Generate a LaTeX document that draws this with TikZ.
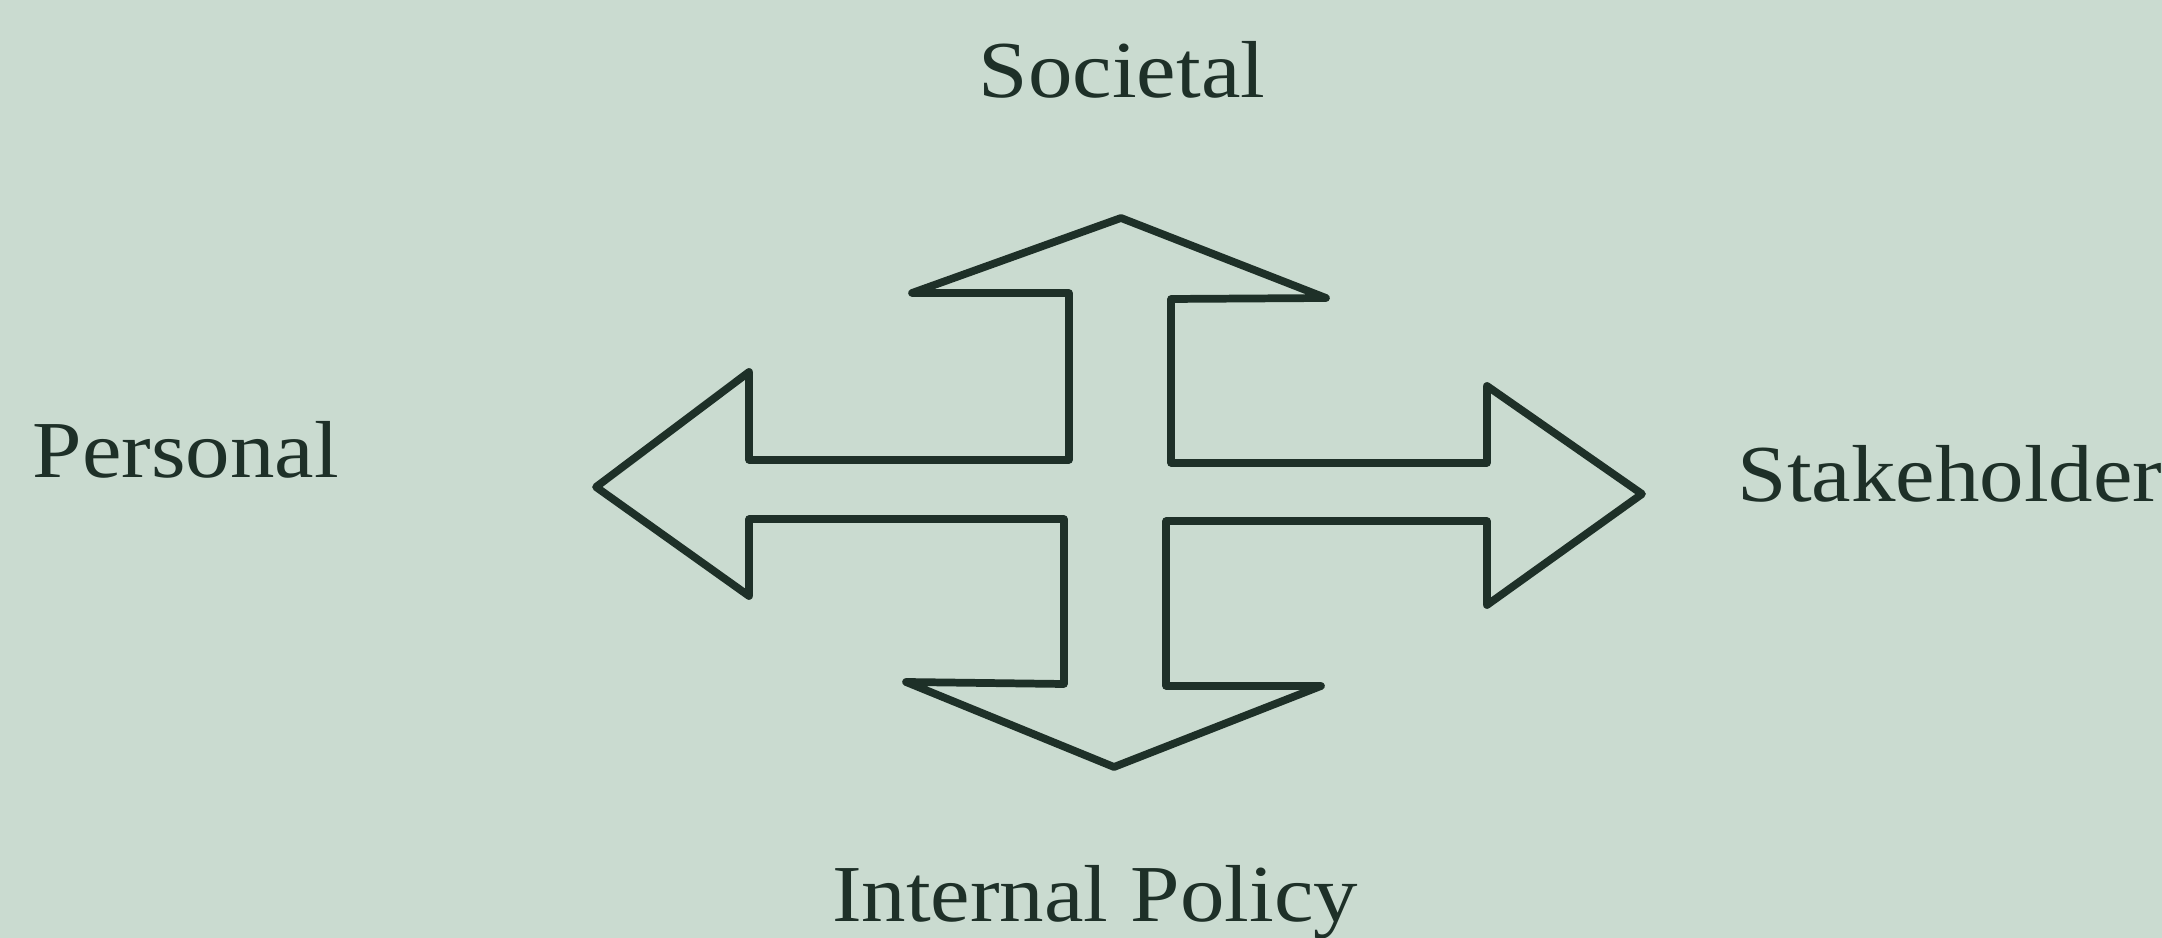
\documentclass[tikz,border=0pt]{standalone}
\usepackage{fontspec}
\setmainfont[FakeStretch=1.1]{Liberation Serif}
\usepackage{xcolor}
\definecolor{paper}{RGB}{202,219,208}
\definecolor{inkgreen}{RGB}{30,48,40}
\usepackage{tikz}
\usetikzlibrary{positioning}

\begin{document}
\begin{tikzpicture}[x=0.1mm, y=-0.1mm, font=\fontsize{23}{28}\selectfont]

  %% Paper background (fixes the margins)
  \fill[paper] (0,0) rectangle (2162,938);
  \useasboundingbox (0,0) rectangle (2162,938);

  %% Four-way arrow outline, one closed path
  \draw[line width=2.2pt, inkgreen, line join=round]
    (1121,218) -- (1326,298) -- (1171,299) -- (1171,463)
    -- (1487,463) -- (1487,386) -- (1642,494) -- (1487,605)
    -- (1487,521) -- (1166,521) -- (1166,686) -- (1321,686)
    -- (1114,767) -- (906,682) -- (1064,684) -- (1064,519)
    -- (749,519) -- (749,596) -- (596,487) -- (749,372)
    -- (749,460) -- (1069,460) -- (1069,293) -- (912,293)
    -- cycle;

  %% Direction labels
  \node[inner sep=0, anchor=base, text=inkgreen] (societal)
    at (1122,98) {Societal};
  \node[inner sep=0, anchor=base west, text=inkgreen] (personal)
    at (32,478) {Personal};
  \node[inner sep=0, anchor=base west, text=inkgreen] (stakeholder)
    at (1737,502) {Stakeholder};
  \node[inner sep=0, anchor=base, text=inkgreen] (internal)
    at (1095,922) {Internal Policy};

\end{tikzpicture}
\end{document}
